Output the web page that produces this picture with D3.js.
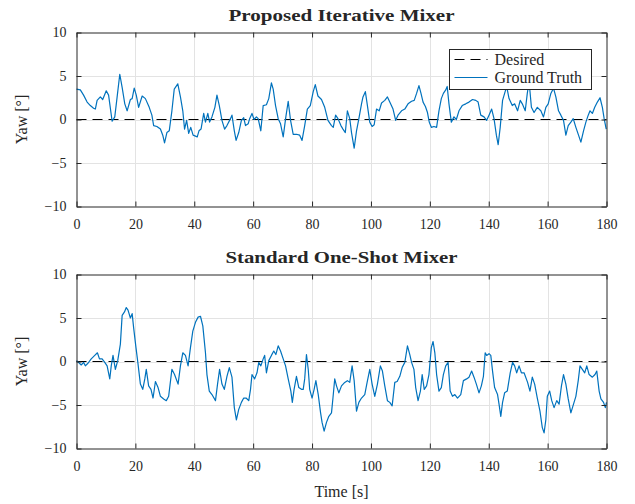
<!DOCTYPE html>
<html>
<head>
<meta charset="utf-8">
<script src="https://cdn.jsdelivr.net/npm/d3@7"></script>
<style>
  body { margin: 0; background: #fff; }
  svg text { font-family: "Liberation Serif", "DejaVu Serif", serif; fill: #262626; }
</style>
</head>
<body>
<div id="chart"></div>
<script>
// Yaw traces (time in s, yaw in degrees)
const timeTop = [0,1.3,2.4,3.6,4.7,5.8,6.4,7,8.1,8.9,10.1,10.9,12.1,13,13.8,14.7,15.5,16.4,17.2,18.3,18.9,19.6,20.3,21.1,22.3,23.4,24.7,25.6,26.2,27.3,28.5,29.3,29.9,30.7,31.5,32.4,33.2,34.4,35.3,36.1,36.7,37.4,38.1,38.8,39.6,41,41.6,42.3,43.2,43.8,44.6,45.2,46,47,47.7,48.5,49.4,50.3,51.1,52.3,52.8,53.6,54.2,55.1,56,56.8,57.4,58.3,58.8,59.6,60.3,61.1,61.7,62.6,63.4,64.5,65.3,66.2,66.8,67.6,68.5,69.3,70.2,71.1,71.9,72.7,73.6,74.7,75.8,76.6,77.5,78.4,79.4,80.4,81.1,82,83.2,84.3,85.4,86.6,87.2,88,88.8,89.8,90.5,91.3,92,92.8,93.4,94.3,95.1,95.9,96.8,97.3,98.1,98.8,99.6,100.4,101.1,101.9,102.8,103.6,104.7,105.6,106.4,107.5,108.4,109.2,110.4,111.5,112.6,113.8,114.7,115.5,116.3,117,117.7,118.5,119.2,119.8,120.5,121.4,122.3,123.1,123.9,124.6,125.4,125.9,126.5,127.3,128.2,129,129.9,131,132.2,133.3,134.5,135.6,136.4,137.3,138.4,139.3,140.1,141,141.8,142.6,143.2,143.9,144.7,145.4,146.1,146.9,148,148.8,149.8,150.7,151.4,152.4,153.1,153.7,154.5,155.4,156.5,157.7,158.6,159.4,160.2,161.1,162,162.8,163.7,164.5,165.4,166.2,167,167.9,168.7,169.6,170.5,171.3,172.2,173,173.8,174.4,175.2,176,176.9,177.8,178.6,179.2,179.9];
const yawTop = [3.5,3.4,2.8,2.0,1.6,1.3,1.2,2.2,2.6,2.3,3.3,2.8,-0.2,0.3,2.6,5.2,3.7,1.8,1.0,2.3,2.4,3.6,2.8,1.4,2.7,2.4,1.4,0.5,-0.7,-0.8,-1.1,-1.8,-2.7,-1.5,-1.3,1.0,3.5,4.1,2.6,1.0,-1.1,-0.1,-1.6,-0.9,-1.8,-2.0,-1.3,-1.1,0.7,-0.3,0.7,-0.3,0.3,1.4,2.8,1.6,-0.1,-1.1,-0.7,0.1,0.5,-1.3,-2.4,-1.5,-0.1,0.2,-0.7,-0.5,0.1,0.7,0,0.3,0.1,-1.3,1.6,1.7,2.4,4.2,3.5,1.6,0.1,-0.5,-2.0,0.3,2.1,-0.1,-1.7,-1.7,-1.8,-2.4,-0.7,1.2,1.6,3.2,4.0,2.7,2.3,1.4,-0.1,-0.7,-0.9,0.5,0.1,-0.7,-1.1,-1.5,1.0,0.1,-1.5,-3.3,-1.3,0.1,1.8,2.6,3.2,1.6,-0.3,-0.8,-0.6,1.2,1.0,1.9,2.2,2.6,2.0,1.2,-0.1,0.5,1.0,1.2,1.8,2.1,2.2,3.0,3.9,3.0,2.0,1.5,0.8,-0.3,-0.9,-0.8,-0.9,1.0,2.4,3.0,3.4,3.8,1.8,-0.3,0.3,0,1.0,1.6,1.8,2.0,2.3,2.2,2.0,0.5,0.3,-0.1,0.5,1.2,0.1,-1.8,-2.9,-0.9,2.2,3.0,3.8,2.4,1.6,1.8,1.0,2.2,1.8,1.0,3.0,4.4,1.4,0.8,1.4,1.0,0.3,1.4,1.8,3.0,3.6,2.6,1.0,0.5,-0.1,-1.8,-0.7,-0.3,0.1,-0.9,-1.8,-2.6,-1.3,-0.3,0.5,1.0,0.7,1.4,2.0,2.5,1.4,0.1,-1.1];

const timeBottom = [0,1,1.6,2.4,3,3.9,5,6.2,7.1,7.8,8.7,9.6,10.4,11.3,11.8,12.4,13.2,14,14.9,15.5,16.3,16.9,17.5,18.3,18.9,19.4,20.2,20.9,21.7,22.5,23.2,23.7,24.5,25.3,26,26.8,27.7,28.5,29.6,30.5,31.3,32.4,33.3,34.5,35.3,36.1,37,37.9,38.7,39.5,40.4,41.3,42.1,42.9,43.8,44.3,45.1,46,47.2,47.9,48.6,49.4,50.2,51.1,51.9,52.8,53.6,54.3,55.1,56,56.8,57.6,58.5,59.1,59.6,60.5,61.3,61.9,62.6,63.4,63.9,64.5,65.3,66.2,67,67.7,68.5,69.3,70.2,71,71.9,72.8,73.3,73.9,74.7,75.5,76.4,77,77.5,78.1,78.7,79.2,80,80.7,81.3,82.1,82.9,83.4,84.1,84.9,85.7,86.6,87.1,87.7,88.3,89.1,90,91.1,92,92.8,93.6,94.3,95.1,95.9,96.8,97.9,98.7,99.6,100.4,101.3,102.2,103.2,103.9,104.7,105.6,106.4,107.2,108.1,108.9,109.8,110.6,111.5,112.4,113.2,113.8,114.6,115.2,116,116.8,117.4,118.1,118.9,119.7,120.5,121.1,121.7,122.3,123.1,123.9,124.6,125.4,126.2,126.9,127.7,128.5,129.4,130.5,131.4,132.5,133.3,134.2,135,135.8,136.7,137.5,138.2,138.8,139.3,140.1,140.7,141.3,142,143,143.5,144.1,144.7,145.4,146.3,147.3,148.1,148.8,149.5,150.3,151.1,152,153.2,154,154.8,155.6,156.5,157.4,158.2,158.8,159.4,159.9,160.7,161.4,162.2,163.1,163.9,164.7,165.4,166.2,167,167.9,168.8,169.6,170.4,171,171.8,172.6,173.3,174.1,175.2,176.1,176.7,177.5,178.1,179,179.6,180];
const yawBottom = [0.1,-0.2,-0.4,-0.1,-0.5,-0.2,0.3,0.7,1.0,0.3,0.3,-0.1,-0.5,-2.0,-0.5,0.7,-0.9,0.1,2.0,5.3,5.7,6.2,5.9,5.0,5.5,3.9,1.6,-0.3,-2.6,-3.2,-2.0,-0.9,-2.8,-3.2,-4.2,-2.3,-3.0,-4.0,-4.3,-4.5,-4.0,-0.9,-1.5,-2.6,-0.5,1.0,0.7,-0.5,1.6,3.5,4.5,5.1,5.2,4.1,1.0,-1.5,-3.4,-3.8,-4.5,-2.6,-0.9,-2.6,-3.2,-1.7,-0.7,-1.8,-5.3,-6.7,-5.5,-4.7,-4.2,-4.2,-4.5,-3.2,-1.5,-2.0,-1.3,-0.1,-0.5,0.3,0.7,-1.3,0.1,0.7,1.2,0.8,1.8,1.2,0.3,-0.5,-2.0,-3.4,-4.7,-3.2,-1.7,-3.0,-3.2,-3.2,-2.0,0.8,-0.9,-3.2,-4.2,-3.2,-2.2,-3.8,-5.9,-7.0,-8.0,-7.0,-6.3,-5.9,-4.2,-2.0,-2.8,-3.6,-2.8,-2.4,-2.2,-2.4,-0.5,-2.2,-5.7,-4.7,-4.2,-3.8,-2.4,-0.9,-2.6,-4.0,-2.6,-0.5,-1.1,-2.8,-4.5,-4.7,-5.1,-2.4,-2.3,-1.7,-0.7,-0.1,1.8,0.8,-0.1,-0.9,-3.0,-4.5,-3.4,-1.5,-3.2,-2.8,-1.5,1.6,2.3,1.0,-1.5,-3.4,-3.0,-1.5,-0.5,-0.1,-3.4,-4.0,-3.8,-4.2,-3.8,-2.2,-2.0,-1.8,-1.1,-1.8,-2.6,-3.6,-2.8,-1.7,1.0,0.7,0.9,0.7,-1.1,-3.0,-3.8,-4.9,-6.3,-4.7,-3.6,-3.4,-1.3,-0.1,-0.5,-1.3,-0.5,-1.3,-1.3,-2.4,-3.4,-1.8,-2.6,-4.2,-5.7,-7.6,-8.2,-6.7,-4.0,-3.4,-4.5,-5.3,-4.5,-4.9,-2.8,-1.5,-2.6,-4.3,-5.9,-4.9,-4.0,-2.2,-0.5,-0.9,-1.3,-0.5,-1.5,-1.8,-1.5,-1.1,-3.4,-4.3,-4.7,-5.3,-4.7];

const xTicks = [0, 20, 40, 60, 80, 100, 120, 140, 160, 180];
const yTicks = [-10, -5, 0, 5, 10];
const panelTitles = ['Proposed Iterative Mixer', 'Standard One-Shot Mixer'];
const legendLabels = ['Desired', 'Ground Truth'];

const W = 635, H = 504;
const plotLeft = 76.5, plotRight = 606.5;
const panels = [
    { title: panelTitles[0], titleWidth: 226, t: timeTop, v: yawTop, top: 32.5, bottom: 206.5, legend: true, xLabel: false },
    { title: panelTitles[1], titleWidth: 232, t: timeBottom, v: yawBottom, top: 274.5, bottom: 448.5, legend: false, xLabel: true }
];

const blue = '#0072BD';
const axisColor = '#262626';

const svg = d3.select('#chart')
    .append('svg')
    .attr('width', W)
    .attr('height', H);

const x = d3.scaleLinear().domain([0, 180]).range([plotLeft, plotRight]);

panels.forEach(p => {
    const y = d3.scaleLinear().domain([-10, 10]).range([p.bottom, p.top]);
    const g = svg.append('g');

    // grid
    g.append('g').selectAll('line.vg')
        .data(xTicks.slice(1, -1))
        .enter().append('line')
        .attr('x1', d => Math.round(x(d)) + 0.5).attr('x2', d => Math.round(x(d)) + 0.5)
        .attr('y1', p.top).attr('y2', p.bottom)
        .attr('stroke', '#e3e3e3').attr('stroke-width', 1);

    g.append('g').selectAll('line.hg')
        .data(yTicks.slice(1, -1))
        .enter().append('line')
        .attr('x1', plotLeft).attr('x2', plotRight)
        .attr('y1', d => Math.round(y(d)) + 0.5).attr('y2', d => Math.round(y(d)) + 0.5)
        .attr('stroke', '#e3e3e3').attr('stroke-width', 1);

    // desired (zero) line
    g.append('line')
        .attr('x1', x(0)).attr('x2', x(180))
        .attr('y1', y(0)).attr('y2', y(0))
        .attr('stroke', '#000').attr('stroke-width', 1.2)
        .attr('stroke-dasharray', '10,6');

    // ground truth
    const line = d3.line()
        .x((d, i) => x(p.t[i]))
        .y(d => y(d));

    g.append('path')
        .datum(p.v)
        .attr('d', line)
        .attr('fill', 'none')
        .attr('stroke', blue)
        .attr('stroke-width', 1.2)
        .attr('stroke-linejoin', 'round');

    // axes with inward ticks on all sides
    const styleAxis = sel => {
        sel.selectAll('path').attr('stroke', axisColor);
        sel.selectAll('line').attr('stroke', axisColor);
        sel.selectAll('text')
            .style('font-family', '"Liberation Serif", serif')
            .style('font-size', '14px')
            .attr('fill', axisColor);
    };

    g.append('g')
        .attr('transform', `translate(0,${p.bottom})`)
        .call(d3.axisBottom(x).tickValues(xTicks).tickSize(-5).tickSizeOuter(0).tickPadding(13))
        .call(styleAxis);

    g.append('g')
        .attr('transform', `translate(0,${p.top})`)
        .call(d3.axisTop(x).tickValues(xTicks).tickSize(-5).tickSizeOuter(0).tickFormat(''))
        .call(styleAxis);

    g.append('g')
        .attr('transform', `translate(${plotLeft},0)`)
        .call(d3.axisLeft(y).tickValues(yTicks).tickSize(-5).tickSizeOuter(0).tickPadding(10))
        .call(styleAxis);

    g.append('g')
        .attr('transform', `translate(${plotRight},0)`)
        .call(d3.axisRight(y).tickValues(yTicks).tickSize(-5).tickSizeOuter(0).tickFormat(''))
        .call(styleAxis);

    // title
    g.append('text')
        .attr('x', (plotLeft + plotRight) / 2)
        .attr('y', p.top - 12)
        .attr('text-anchor', 'middle')
        .attr('textLength', p.titleWidth)
        .attr('lengthAdjust', 'spacingAndGlyphs')
        .style('font-size', '17px')
        .style('font-weight', 'bold')
        .attr('fill', '#000')
        .text(p.title);

    // y label
    g.append('text')
        .attr('transform', `translate(27,${(p.top + p.bottom) / 2}) rotate(-90)`)
        .attr('text-anchor', 'middle')
        .style('font-size', '16px')
        .attr('fill', axisColor)
        .text('Yaw [°]');

    if (p.xLabel) {
        g.append('text')
            .attr('x', (plotLeft + plotRight) / 2)
            .attr('y', p.bottom + 48)
            .attr('text-anchor', 'middle')
            .style('font-size', '16px')
            .attr('fill', axisColor)
            .text('Time [s]');
    }

    if (p.legend) {
        const lg = g.append('g').attr('transform', 'translate(449.5,49.5)');
        lg.append('rect')
            .attr('width', 142).attr('height', 40)
            .attr('fill', '#fff').attr('stroke', axisColor).attr('stroke-width', 1);

        lg.append('line')
            .attr('x1', 5).attr('x2', 38).attr('y1', 10).attr('y2', 10)
            .attr('stroke', '#000').attr('stroke-width', 1.2).attr('stroke-dasharray', '10,6');
        lg.append('line')
            .attr('x1', 5).attr('x2', 38).attr('y1', 28).attr('y2', 28)
            .attr('stroke', blue).attr('stroke-width', 1.2);

        legendLabels.forEach((label, i) => {
            lg.append('text')
                .attr('x', 45)
                .attr('y', 10 + i * 18)
                .attr('dy', '0.35em')
                .style('font-size', '16px')
                .attr('fill', axisColor)
                .text(label);
        });
    }
});
</script>
</body>
</html>
